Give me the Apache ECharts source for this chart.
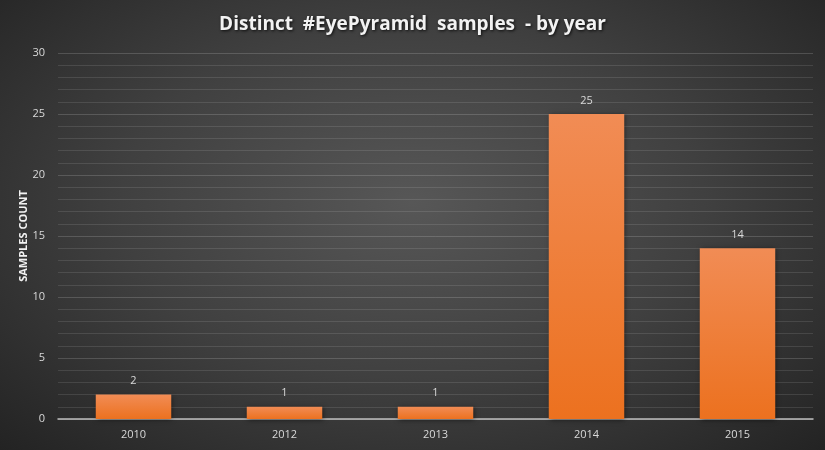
<!DOCTYPE html>
<html><head><meta charset="utf-8">
<script src="https://cdn.jsdelivr.net/npm/echarts@6/dist/echarts.min.js"></script>
<style>html,body{margin:0;padding:0;}#c{width:825px;height:450px;background:radial-gradient(ellipse at 50% 45%, #575757 0%, #404040 50%, #232323 100%);}</style>
</head><body><div id="c"></div>
<script>
const categories = ['2010','2012','2013','2014','2015'];
const sampleCounts = [2,1,1,25,14];
const chart = echarts.init(document.getElementById('c'), null, {renderer:'canvas'});
chart.setOption({
  backgroundColor: 'transparent',
  title: {
    text: 'Distinct  #EyePyramid  samples  - by year',
    left: 'center', top: 10,
    textStyle: {color:'#f2f2f2', fontSize:19, fontWeight:'bold', fontFamily:'Open Sans',
      textShadowColor:'rgba(0,0,0,0.8)', textShadowBlur:3, textShadowOffsetX:1, textShadowOffsetY:1}
  },
  grid: {left:58, right:12, top:53, bottom:31},
  xAxis: {
    type:'category', data: categories,
    axisLine:{lineStyle:{color:'#bfbfbf', width:1.5}},
    axisTick:{show:false},
    axisLabel:{color:'#d9d9d9', fontSize:11, fontFamily:'Open Sans', margin:10}
  },
  yAxis: {
    type:'value', min:0, max:30, interval:5,
    name:'SAMPLES COUNT', nameLocation:'middle', nameGap:29, nameMoveOverlap:false,
    nameTextStyle:{color:'#f2f2f2', fontSize:11, fontWeight:'bold', fontFamily:'Open Sans'},
    axisLine:{show:false}, axisTick:{show:false},
    axisLabel:{color:'#d9d9d9', fontSize:11, fontFamily:'Open Sans', margin:13},
    splitLine:{lineStyle:{color:'rgba(255,255,255,0.16)', width:1}},
    minorTick:{show:false, splitNumber:5},
    minorSplitLine:{show:true, lineStyle:{color:'rgba(255,255,255,0.11)', width:1}}
  },
  series: [{
    type:'bar', data: sampleCounts, barWidth:'50%',
    itemStyle:{
      color: new echarts.graphic.LinearGradient(0,0,0,1,[{offset:0,color:'#f18c55'},{offset:1,color:'#ec711f'}]),
      shadowColor:'rgba(0,0,0,0.5)', shadowBlur:5, shadowOffsetX:1, shadowOffsetY:1
    },
    label:{show:true, position:'top', distance:8, color:'#d9d9d9', fontSize:11, fontFamily:'Open Sans'}
  }]
});
</script></body></html>
